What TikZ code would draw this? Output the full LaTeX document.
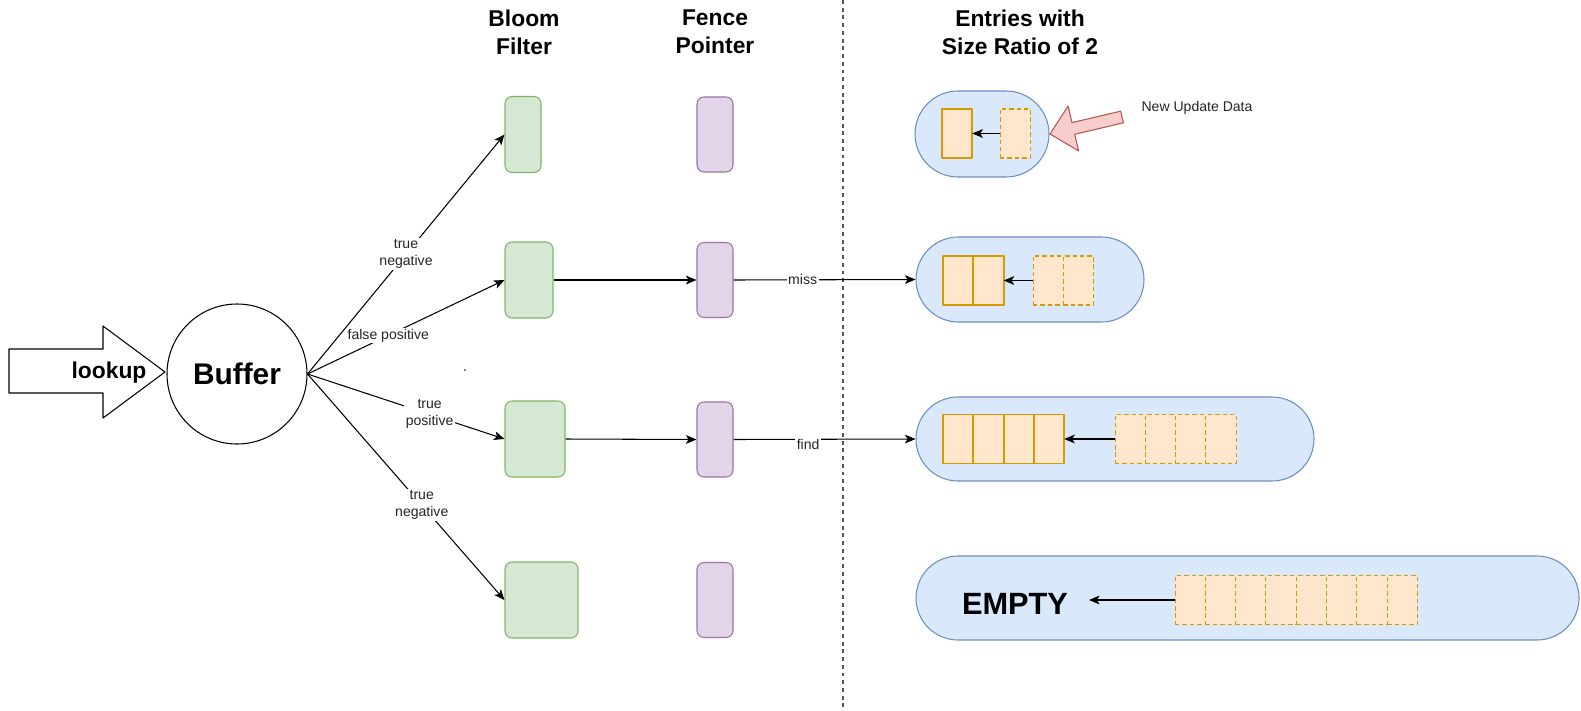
\documentclass[tikz,border=0pt]{standalone}
\usepackage{fontspec}
\setmainfont{Liberation Sans}
\usetikzlibrary{arrows.meta,positioning}

\definecolor{bffill}{HTML}{D5E8D4}
\definecolor{bfline}{HTML}{82B366}
\definecolor{fpfill}{HTML}{E1D5E7}
\definecolor{fpline}{HTML}{9673A6}
\definecolor{pillfill}{HTML}{DAE8FC}
\definecolor{pillline}{HTML}{6C8EBF}
\definecolor{entfill}{HTML}{FFE6CC}
\definecolor{entline}{HTML}{D79B00}
\definecolor{updfill}{HTML}{F8CECC}
\definecolor{updline}{HTML}{B85450}
\definecolor{labeltext}{HTML}{262626}
\definecolor{divider}{HTML}{555555}

% one drawing unit
\newcommand{\pxu}{0.02cm}

\begin{document}
\begin{tikzpicture}[x=0.02cm, y=-0.02cm, line join=round,
  conn/.style={draw=black, line width=0.6pt, -{Stealth[length=6pt,width=5pt,inset=1.5pt]}},
  lbl/.style={font=\fontsize{8}{9.6}\selectfont, text=labeltext, fill=white, inner sep=0.8pt, align=center},
  head/.style={align=center, font=\fontsize{13}{15.9}\selectfont\bfseries, inner sep=0pt},
  bfbox/.style={draw=bfline, fill=bffill, line width=0.6pt, rounded corners=0.14cm,
    minimum height=76*\pxu, inner sep=0pt},
  fpbox/.style={draw=fpline, fill=fpfill, line width=0.6pt, rounded corners=0.14cm,
    minimum width=36*\pxu, minimum height=75*\pxu, inner sep=0pt},
  pill/.style={draw=pillline, fill=pillfill, line width=0.6pt, inner sep=0pt},
  sbox/.style={draw=entline, fill=entfill, line width=1pt, minimum width=30.3*\pxu,
    minimum height=49*\pxu, inner sep=0pt, outer sep=0pt},
  dbox/.style={draw=entline, fill=entfill, line width=0.6pt, dash pattern=on 2.5pt off 1.7pt,
    minimum width=30.3*\pxu, minimum height=49*\pxu, inner sep=0pt, outer sep=0pt},
]
\useasboundingbox (0,0) rectangle (1581,710);

% divider between the lookup path and the levels
\coordinate (dtop) at (843,0);
\coordinate (dbot) at (843,710);
\draw[divider, line width=0.7pt, dash pattern=on 2.2pt off 2.2pt] (dtop) -- (dbot);

% column headers
\node[head] (hbloom) at (524,32) {Bloom\\Filter};
\node[head] (hfence) at (715,32) {Fence\\Pointer};
\node[head] (hentries) at (1020,32) {Entries with\\Size Ratio of 2};

% lookup block arrow and buffer
\draw[line width=0.6pt, fill=white] (9,349) -- (103,349) -- (103,326) -- (165,372)
  -- (103,418) -- (103,393) -- (9,393) -- cycle;
\node[font=\fontsize{13}{15}\selectfont\bfseries] (lookup) at (109,373) {lookup};
\node[circle, draw, line width=0.6pt, fill=white, minimum size=140*\pxu, inner sep=0pt,
  font=\fontsize{17}{20}\selectfont\bfseries] (buf) at (237,374) {Buffer};

% bloom filters
\node[bfbox, minimum width=36*\pxu] (b1) at (523,134.5) {};
\node[bfbox, minimum width=48*\pxu] (b2) at (529,280) {};
\node[bfbox, minimum width=60*\pxu] (b3) at (535,439) {};
\node[bfbox, minimum width=73*\pxu] (b4) at (541.5,600) {};

% fence pointers
\node[fpbox] (f1) at (715,134.5) {};
\node[fpbox] (f2) at (715,280) {};
\node[fpbox] (f3) at (715,439.5) {};
\node[fpbox] (f4) at (715,600) {};

% levels
\node[pill, minimum width=134*\pxu, minimum height=86*\pxu, rounded corners=43*\pxu] (p1) at (982,134) {};
\node[pill, minimum width=228*\pxu, minimum height=85*\pxu, rounded corners=42.5*\pxu] (p2) at (1030,279.5) {};
\node[pill, minimum width=398*\pxu, minimum height=84*\pxu, rounded corners=42*\pxu] (p3) at (1115,439) {};
\node[pill, minimum width=663*\pxu, minimum height=84*\pxu, rounded corners=42*\pxu] (p4) at (1247.5,598) {};

% level 0
\node[sbox] (s11) at (957.2,133.5) {};
\node[dbox] (d11) at (1015.2,133.5) {};
\draw[conn] (d11.west) -- (s11.east);

% level 1
\node[sbox] (s21) at (958.2,280.5) {};
\node[sbox, right=0pt of s21] (s22) {};
\node[dbox] (d21) at (1048.2,280.5) {};
\node[dbox, right=0pt of d21] (d22) {};
\draw[conn] (d21.west) -- (s22.east);

% level 2
\node[sbox] (s31) at (958.2,439) {};
\node[sbox, right=0pt of s31] (s32) {};
\node[sbox, right=0pt of s32] (s33) {};
\node[sbox, right=0pt of s33] (s34) {};
\node[dbox] (d31) at (1130.2,439) {};
\node[dbox, right=0pt of d31] (d32) {};
\node[dbox, right=0pt of d32] (d33) {};
\node[dbox, right=0pt of d33] (d34) {};
\draw[conn] (d31.west) -- (s34.east);

% level 3
\node[font=\fontsize{17.5}{21}\selectfont\bfseries] (emptytxt) at (1015,604) {EMPTY};
\node[dbox] (d41) at (1190.2,600) {};
\foreach \i [remember=\i as \j (initially 1)] in {2,...,8}
  \node[dbox, right=0pt of d4\j] (d4\i) {};
\coordinate (eend) at (1089,600);
\draw[conn] (d41.west) -- (eend);

% incoming update
\draw[draw=updline, fill=updfill, line width=0.6pt]
  (1050,134) -- (1078.6,150.9) -- (1074.7,134.3) -- (1123.4,122.8)
  -- (1120.6,111.2) -- (1072.0,122.6) -- (1068.1,106.1) -- cycle;
\node[font=\fontsize{8}{9.6}\selectfont, text=labeltext] (upd) at (1197,108) {New Update Data};

% probes from the buffer
\draw[conn] (buf.east) -- node[lbl, pos=0.5] {true\\negative} (b1.west);
\draw[conn] (buf.east) -- node[lbl, pos=0.41] {false positive} (b2.west);
\draw[conn] (buf.east) -- node[lbl, pos=0.62] {true\\positive} (b3.west);
\draw[conn] (buf.east) -- node[lbl, pos=0.58] {true\\negative} (b4.west);

% filter -> fence pointer -> level
\draw[conn] (b2.east) -- (f2.west);
\draw[conn] (b3.east) -- (f3.west);
\draw[conn] (f2.east) -- node[lbl, pos=0.38] {miss} (p2.west);
\draw[conn] (f3.east) -- node[lbl, pos=0.41, yshift=-3pt] {find} (p3.west);

% speck
\fill[black!70] (465,370) circle (0.6pt);
\end{tikzpicture}
\end{document}
